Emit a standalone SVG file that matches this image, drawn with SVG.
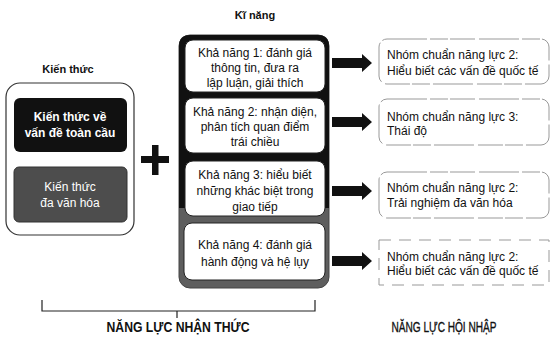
<svg xmlns="http://www.w3.org/2000/svg" width="551" height="337" viewBox="0 0 551 337">
<style>
text{font-family:"Liberation Sans",Arial,sans-serif;}
.lbl{font-size:11px;font-weight:bold;fill:#111;text-anchor:middle;}
.wt{font-size:12px;fill:#fff;text-anchor:middle;}
.mt{font-size:12px;fill:#111;text-anchor:middle;}
.rt{font-size:12px;fill:#111;}
.wbox{fill:#fff;stroke:#222;stroke-width:1;}
.rbox{fill:#fff;stroke:#999;stroke-width:1;stroke-dasharray:40 3 18 2 25 4;}
.arrow{fill:#111;}
.big{font-size:14px;fill:#111;text-anchor:middle;}
</style>
<rect width="551" height="337" fill="#fff"/>
<g id="kien-thuc">
<text class="lbl" x="68" y="73">Kiến thức</text>
<rect x="6" y="83" width="128" height="152" rx="14" fill="#fff" stroke="#333" stroke-width="1.2"/>
<g id="kt-toan-cau">
<rect x="14" y="98" width="113" height="54" rx="6" fill="#111"/>
<text class="wt" x="70" y="121" font-weight="bold">Kiến thức về</text>
<text class="wt" x="70" y="137" font-weight="bold">vấn đề toàn cầu</text>
</g>
<g id="kt-da-van-hoa">
<rect x="14" y="167" width="113" height="55" rx="5" fill="#4d4d4d" stroke="#333"/>
<text class="wt" x="70" y="191">Kiến thức</text>
<text class="wt" x="70" y="207">đa văn hóa</text>
</g>
</g>
<g id="plus">
<rect x="141" y="156" width="28" height="7" fill="#111"/>
<rect x="152" y="145" width="6.5" height="30" fill="#111"/>
</g>
<g id="ki-nang">
<text class="lbl" x="255" y="19">Kĩ năng</text>
<rect x="179" y="35" width="150" height="253" rx="11" fill="#5e5e5e" stroke="#444" stroke-width="1"/>
<path d="M179 208 V46 Q179 35 190 35 H318 Q329 35 329 46 V208 Z" fill="#111"/>
<g id="kn1">
<rect class="wbox" x="185" y="40" width="140" height="52" rx="8"/>
<text class="mt" x="255" y="57">Khả năng 1: đánh giá</text>
<text class="mt" x="255" y="72">thông tin, đưa ra</text>
<text class="mt" x="255" y="87">lập luận, giải thích</text>
</g>
<g id="kn2">
<rect class="wbox" x="185" y="98" width="140" height="55" rx="8"/>
<text class="mt" x="255" y="116">Khả năng 2: nhận diện,</text>
<text class="mt" x="255" y="131">phân tích quan điểm</text>
<text class="mt" x="255" y="146">trái chiều</text>
</g>
<g id="kn3">
<rect class="wbox" x="185" y="161" width="140" height="55" rx="8"/>
<text class="mt" x="255" y="179">Khả năng 3: hiểu biết</text>
<text class="mt" x="255" y="195">những khác biệt trong</text>
<text class="mt" x="255" y="211">giao tiếp</text>
</g>
<g id="kn4">
<rect class="wbox" x="184" y="223" width="141" height="57" rx="8"/>
<text class="mt" x="255" y="249" fill="#333">Khả năng 4: đánh giá</text>
<text class="mt" x="255" y="266" fill="#333">hành động và hệ lụy</text>
</g>
</g>
<g id="connectors">
<path class="arrow" d="M332 58 H362 V54 L372 63 L362 72 V68 H332 Z"/>
<path class="arrow" d="M332 117 H362 V113 L372 122 L362 131 V127 H332 Z"/>
<path class="arrow" d="M332 186 H362 V182 L372 191 L362 200 V196 H332 Z"/>
<path class="arrow" d="M332 256 H362 V252 L372 261 L362 270 V266 H332 Z"/>
<path d="M42 300 V311 H315 V300 M177 311 V318" fill="none" stroke="#222" stroke-width="1.2"/>
</g>
<g id="ncnl1">
<rect class="rbox" x="379" y="39" width="170" height="45" rx="8"/>
<text class="rt" x="387" y="59">Nhóm chuẩn năng lực 2:</text>
<text class="rt" x="387" y="75">Hiểu biết các vấn đề quốc tế</text>
</g>
<g id="ncnl2">
<rect class="rbox" x="379" y="99" width="170" height="46" rx="8"/>
<text class="rt" x="387" y="121">Nhóm chuẩn năng lực 3:</text>
<text class="rt" x="387" y="135">Thái độ</text>
</g>
<g id="ncnl3">
<rect class="rbox" x="379" y="172" width="170" height="46" rx="8"/>
<text class="rt" x="387" y="192">Nhóm chuẩn năng lực 2:</text>
<text class="rt" x="387" y="207">Trải nghiệm đa văn hóa</text>
</g>
<g id="ncnl4">
<rect x="379" y="240" width="170" height="45" fill="#fff" stroke="#999" stroke-width="1" stroke-dasharray="12 8"/>
<text class="rt" x="387" y="261">Nhóm chuẩn năng lực 2:</text>
<text class="rt" x="387" y="275">Hiểu biết các vấn đề quốc tế</text>
</g>
<text class="big" x="178" y="332" font-size="13" font-weight="bold" textLength="143" lengthAdjust="spacingAndGlyphs">NĂNG LỰC NHẬN THỨC</text>
<text class="big" x="444" y="332" stroke="#111" stroke-width="0.35" textLength="105" lengthAdjust="spacingAndGlyphs">NĂNG LỰC HỘI NHẬP</text>
</svg>
